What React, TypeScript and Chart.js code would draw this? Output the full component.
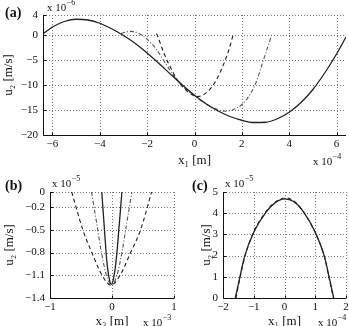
import React, { useEffect, useRef } from 'react';
import { Chart, registerables } from 'chart.js';

Chart.register(...registerables);

const FONT = '"Liberation Serif", "DejaVu Serif", "Times New Roman", serif';
const INK = '#222222';
const GRID = '#7a7a7a';

// ---------- Panel (a): u2 vs x1 (x 1e-4 m, u2 x 1e-6 m/s) ----------
const aXTicks = [-6, -4, -2, 0, 2, 4, 6];
const aYTicks = [-20, -15, -10, -5, 0, 4];
const aSolidX = [-6.38, -6.0, -5.5, -5.0, -4.5, -4.0, -3.5, -3.0, -2.5, -2.0, -1.5, -1.0, -0.5, 0.0, 0.5, 1.0, 1.5, 2.0, 2.5, 3.0, 3.5, 4.0, 4.5, 5.0, 5.5, 6.0, 6.4];
const aSolidY = [0.3, 1.6, 2.7, 3.15, 3.0, 2.35, 1.25, -0.1, -1.7, -3.6, -5.7, -7.9, -10.05, -12.05, -13.8, -15.2, -16.3, -17.05, -17.5, -17.45, -16.75, -15.45, -13.5, -10.9, -7.6, -3.8, -0.4];
const aDashX = [-1.6, -1.45, -1.25, -1.0, -0.75, -0.5, -0.25, 0.0, 0.15, 0.35, 0.6, 0.9, 1.2, 1.45, 1.63];
const aDashY = [0.3, -1.6, -4.1, -6.6, -8.8, -10.4, -11.5, -12.15, -12.3, -12.0, -11.1, -9.2, -6.2, -3.0, 0.0];
const aDotX = [-3.1, -2.9, -2.7, -2.5, -2.2, -1.9, -1.6, -1.3, -1.0, -0.7, -0.4, 0.0, 0.5, 1.0, 1.3, 1.6, 2.0, 2.3, 2.6, 2.9, 3.1, 3.26];
const aDotY = [0.3, 0.6, 0.72, 0.6, -0.1, -1.3, -2.9, -5.1, -7.3, -9.2, -10.7, -12.2, -13.85, -14.95, -15.25, -15.0, -13.9, -12.2, -9.5, -5.2, -2.3, 0.0];

// ---------- Panel (b): u2 vs x3 (x 1e-3 m, u2 x 1e-5 m/s) ----------
const bXTicks = [-1, 0, 1];
const bYTicks = [-1.4, -1.1, -0.8, -0.5, -0.2, 0];
const bSolidX = [-0.165, -0.125, -0.085, -0.05, -0.01, 0.03, 0.07, 0.115, 0.16];
const bSolidY = [0, -0.46, -0.9, -1.12, -1.22, -1.12, -0.88, -0.45, 0];
const bDotX = [-0.33, -0.25, -0.17, -0.09, -0.01, 0.08, 0.16, 0.24, 0.32];
const bDotY = [0, -0.4, -0.8, -1.1, -1.22, -1.1, -0.8, -0.4, 0];
const bDashX = [-0.65, -0.47, -0.32, -0.16, -0.02, 0.13, 0.3, 0.46, 0.64];
const bDashY = [0, -0.5, -0.81, -1.1, -1.23, -1.1, -0.8, -0.5, 0];

// ---------- Panel (c): u2 vs x1 (x 1e-4 m, u2 x 1e-5 m/s) ----------
const cXTicks = [-2, -1, 0, 1, 2];
const cYTicks = [0, 1, 2, 3, 4, 5];
const cSolidX = [-1.6, -1.45, -1.3, -1.0, -0.6, -0.3, 0.0, 0.3, 0.6, 1.0, 1.3, 1.45, 1.6];
const cSolidY = [0, 1.0, 1.95, 3.1, 4.05, 4.5, 4.68, 4.55, 4.1, 3.1, 1.95, 1.0, 0];
const cDashX = [-1.58, -1.44, -1.28, -1.0, -0.6, -0.3, 0.05, 0.3, 0.6, 1.0, 1.3, 1.44, 1.59];
const cDashY = [0, 1.0, 2.0, 3.12, 4.08, 4.52, 4.72, 4.58, 4.1, 3.08, 1.93, 1.0, 0];

const fmt = (v: number) => (v < 0 ? '\u2212' + String(Math.abs(v)) : String(v));
const pts = (xs: number[], ys: number[]) => xs.map((x, i) => ({ x, y: ys[i] }));

type Spec = {
  width: number;
  height: number;
  left: number;
  top: number;
  right: number;
  bottom: number;
  xMin: number;
  xMax: number;
  yMin: number;
  yMax: number;
  xTicks: number[];
  yTicks: number[];
  label: string;
  labelPos: [number, number];
  yExp: string;
  yExpPos: [number, number];
  xExp: string;
  xExpPos: [number, number];
  xTitle: string;
  xTitleY: number;
  yTitle: string;
  yTitleX: number;
  datasets: any[];
};

function drawExp(ctx: CanvasRenderingContext2D, x: number, y: number, exp: string) {
  ctx.font = `11px ${FONT}`;
  ctx.textAlign = 'left';
  ctx.textBaseline = 'middle';
  ctx.fillText('x 10', x, y);
  const w = ctx.measureText('x 10').width;
  ctx.font = `8px ${FONT}`;
  ctx.fillText(exp, x + w + 0.5, y - 5);
}

function framePlugin(spec: Spec) {
  return {
    id: 'matlabFrame',
    beforeDatasetsDraw(chart: any) {
      const { ctx, chartArea: a, scales } = chart;
      const xs = scales.x;
      const ys = scales.y;
      ctx.save();
      ctx.strokeStyle = GRID;
      ctx.lineWidth = 1;
      ctx.setLineDash([1, 2]);
      for (const t of spec.xTicks) {
        const px = Math.round(xs.getPixelForValue(t)) + 0.5;
        if (Math.abs(px - a.left) < 1.5) continue;
        ctx.beginPath();
        ctx.moveTo(px, a.top);
        ctx.lineTo(px, a.bottom);
        ctx.stroke();
      }
      for (const t of spec.yTicks) {
        const py = Math.round(ys.getPixelForValue(t)) + 0.5;
        if (Math.abs(py - a.bottom) < 1.5) continue;
        ctx.beginPath();
        ctx.moveTo(a.left, py);
        ctx.lineTo(a.right, py);
        ctx.stroke();
      }
      ctx.restore();
    },
    afterDatasetsDraw(chart: any) {
      const { ctx, chartArea: a, scales } = chart;
      const xs = scales.x;
      const ys = scales.y;
      ctx.save();
      ctx.strokeStyle = '#111';
      ctx.lineWidth = 1;
      ctx.setLineDash([]);
      const lx = Math.round(a.left) + 0.5;
      const by = Math.round(a.bottom) + 0.5;
      ctx.beginPath();
      ctx.moveTo(lx, a.top);
      ctx.lineTo(lx, by);
      ctx.lineTo(a.right, by);
      ctx.stroke();
      ctx.beginPath();
      for (const t of spec.xTicks) {
        const px = Math.round(xs.getPixelForValue(t)) + 0.5;
        ctx.moveTo(px, by);
        ctx.lineTo(px, by - 3);
      }
      for (const t of spec.yTicks) {
        const py = Math.round(ys.getPixelForValue(t)) + 0.5;
        ctx.moveTo(lx, py);
        ctx.lineTo(lx + 3, py);
      }
      ctx.stroke();

      ctx.fillStyle = '#111';
      ctx.font = `bold 14px ${FONT}`;
      ctx.textAlign = 'left';
      ctx.textBaseline = 'middle';
      ctx.fillText(spec.label, spec.labelPos[0], spec.labelPos[1]);
      drawExp(ctx, spec.yExpPos[0], spec.yExpPos[1], spec.yExp);
      drawExp(ctx, spec.xExpPos[0], spec.xExpPos[1], spec.xExp);
      ctx.font = `13px ${FONT}`;
      ctx.textAlign = 'center';
      ctx.textBaseline = 'middle';
      ctx.fillText(spec.xTitle, (a.left + a.right) / 2, spec.xTitleY);
      ctx.save();
      ctx.translate(spec.yTitleX, (a.top + a.bottom) / 2);
      ctx.rotate(-Math.PI / 2);
      ctx.fillText(spec.yTitle, 0, 0);
      ctx.restore();
      ctx.restore();
    },
  };
}

function line(data: { x: number; y: number }[], kind: 'solid' | 'dash' | 'dot', order: number) {
  return {
    data,
    borderColor: kind === 'dot' ? '#555' : INK,
    borderWidth: kind === 'solid' ? 1.3 : 1.1,
    borderDash: kind === 'dash' ? [4, 3] : kind === 'dot' ? [4, 2, 1, 2] : [],
    pointRadius: 0,
    cubicInterpolationMode: 'monotone',
    fill: false,
    order,
  };
}

function makeConfig(spec: Spec): any {
  const tickFont = { family: FONT, size: 11 };
  return {
    type: 'line',
    data: { datasets: spec.datasets },
    options: {
      responsive: false,
      animation: false,
      devicePixelRatio: 1,
      layout: { padding: { left: 0, top: spec.top, right: spec.right, bottom: 0 } },
      plugins: { legend: { display: false }, tooltip: { enabled: false } },
      scales: {
        x: {
          type: 'linear',
          min: spec.xMin,
          max: spec.xMax,
          grid: { display: false, drawTicks: false },
          border: { display: false },
          ticks: { font: tickFont, color: '#111', padding: 3, maxRotation: 0, autoSkip: false, callback: (v: number) => fmt(v) },
          afterBuildTicks: (s: any) => {
            s.ticks = spec.xTicks.map((v) => ({ value: v }));
          },
          afterFit: (s: any) => {
            s.height = spec.bottom;
            s.paddingLeft = 0;
            s.paddingRight = 0;
          },
        },
        y: {
          type: 'linear',
          min: spec.yMin,
          max: spec.yMax,
          grid: { display: false, drawTicks: false },
          border: { display: false },
          ticks: { font: tickFont, color: '#111', padding: 5, autoSkip: false, callback: (v: number) => fmt(v) },
          afterBuildTicks: (s: any) => {
            s.ticks = spec.yTicks.map((v) => ({ value: v }));
          },
          afterFit: (s: any) => {
            s.width = spec.left;
            s.paddingTop = 0;
            s.paddingBottom = 0;
          },
        },
      },
    },
    plugins: [framePlugin(spec)],
  };
}

const specA: Spec = {
  width: 349, height: 170, left: 43, top: 15, right: 3, bottom: 35,
  xMin: -6.4, xMax: 6.4, yMin: -20, yMax: 4,
  xTicks: aXTicks, yTicks: aYTicks,
  label: '(a)', labelPos: [5, 13],
  yExp: '\u22126', yExpPos: [47, 8],
  xExp: '\u22124', xExpPos: [313, 162],
  xTitle: 'x\u2081 [m]', xTitleY: 161,
  yTitle: 'u\u2082 [m/s]', yTitleX: 9,
  datasets: [
    line(pts(aSolidX, aSolidY), 'solid', 0),
    line(pts(aDashX, aDashY), 'dash', 1),
    line(pts(aDotX, aDotY), 'dot', 2),
  ],
};

const specB: Spec = {
  width: 180, height: 156, left: 50, top: 22, right: 6, bottom: 28,
  xMin: -1, xMax: 1, yMin: -1.4, yMax: 0,
  xTicks: bXTicks, yTicks: bYTicks,
  label: '(b)', labelPos: [5, 16],
  yExp: '\u22125', yExpPos: [52, 14],
  xExp: '\u22123', xExpPos: [143, 153],
  xTitle: 'x\u2083 [m]', xTitleY: 152,
  yTitle: 'u\u2082 [m/s]', yTitleX: 10,
  datasets: [
    line(pts(bSolidX, bSolidY), 'solid', 0),
    line(pts(bDotX, bDotY), 'dot', 1),
    line(pts(bDashX, bDashY), 'dash', 2),
  ],
};

const specC: Spec = {
  width: 169, height: 156, left: 43, top: 22, right: 3, bottom: 28,
  xMin: -2, xMax: 2, yMin: 0, yMax: 5,
  xTicks: cXTicks, yTicks: cYTicks,
  label: '(c)', labelPos: [12, 16],
  yExp: '\u22125', yExpPos: [45, 14],
  xExp: '\u22124', xExpPos: [138, 153],
  xTitle: 'x\u2081 [m]', xTitleY: 152,
  yTitle: 'u\u2082 [m/s]', yTitleX: 27,
  datasets: [
    line(pts(cSolidX, cSolidY), 'solid', 0),
    line(pts(cDashX, cDashY), 'dash', 1),
  ],
};

function Panel({ spec, x, y }: { spec: Spec; x: number; y: number }) {
  const ref = useRef<HTMLCanvasElement>(null);
  useEffect(() => {
    const chart = new Chart(ref.current as HTMLCanvasElement, makeConfig(spec));
    return () => chart.destroy();
  }, []);
  return (
    <div style={{ position: 'absolute', left: x, top: y, width: spec.width, height: spec.height }}>
      <canvas ref={ref} width={spec.width} height={spec.height} style={{ width: spec.width, height: spec.height, display: 'block' }} />
    </div>
  );
}

export default function App() {
  return (
    <div style={{ position: 'absolute', left: 0, top: 0, width: 349, height: 326, overflow: 'hidden', background: '#fff' }}>
      <Panel spec={specA} x={0} y={0} />
      <Panel spec={specB} x={0} y={170} />
      <Panel spec={specC} x={180} y={170} />
    </div>
  );
}
